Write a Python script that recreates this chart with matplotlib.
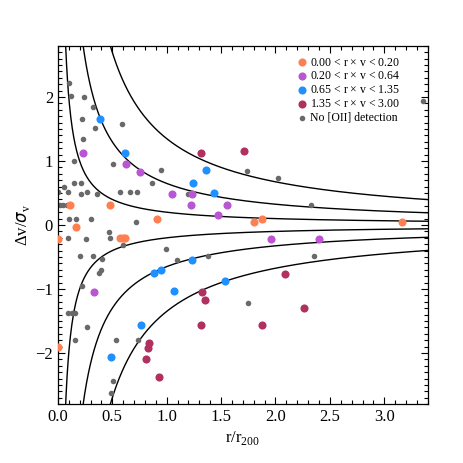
import numpy as np
import matplotlib
matplotlib.use("Agg")
import matplotlib.pyplot as plt
from matplotlib.ticker import MultipleLocator

plt.rcParams['font.family'] = ['Liberation Serif', 'DejaVu Serif']
plt.rcParams['mathtext.fontset'] = 'custom'
plt.rcParams['mathtext.rm'] = 'Liberation Serif'
plt.rcParams['axes.unicode_minus'] = True

# r x v boundaries for the curves
rv_levels = [0.20, 0.65, 1.35]

# galaxies without [OII] detection
gray_r = [0.104, 0.117, 0.24, 0.325, 0.221, 0.341, 0.587, 0.227, 0.15, 0.507,
          0.949, 0.863, 0.058, 0.15, 0.212, 0.0, 0.089, 0.212, 0.27, 0.36,
          0.568, 0.667, 0.728, 1.195, 0.02, 0.05, 0.08, 0.104, 0.169, 0.307,
          0.716, 0.092, 0.261, 0.473, 0.482, 0.599, 0.203, 0.32, 0.41, 0.38,
          0.40, 0.995, 1.094, 1.376, 0.224, 0.095, 0.126, 0.157, 0.264, 0.157,
          0.532, 0.74, 0.51, 0.486, 1.739, 2.025, 2.33, 2.353, 1.748, 3.358]
gray_v = [2.22, 2.02, 2.00, 1.85, 1.66, 1.51, 1.58, 1.34, 1.00, 0.95,
          0.86, 0.66, 0.59, 0.65, 0.65, 0.51, 0.51, 0.49, 0.51, 0.49,
          0.52, 0.52, 0.52, 0.49, 0.32, 0.32, 0.32, 0.09, 0.09, 0.09,
          0.04, -0.21, -0.22, -0.11, -0.20, -0.32, -0.49, -0.49, -0.53, -0.75,
          -0.70, -0.37, -0.54, -0.49, -0.95, -1.38, -1.38, -1.38, -1.59, -1.80,
          -1.80, -1.80, -2.44, -2.63, 0.85, 0.73, 0.31, -0.49, -1.22, 1.94]

# 0.00 < r x v < 0.20
orange_r = [0.113, 0.482, 0.915, 0.166, 0.0, 0.574, 0.599, 0.62, 1.806, 1.874, 3.161, 0.0]
orange_v = [0.32, 0.32, 0.09, -0.03, -0.22, -0.20, -0.20, -0.20, 0.05, 0.10, 0.05, -1.90]

# 0.20 < r x v < 0.64
purple_r = [0.227, 0.63, 0.759, 1.048, 1.235, 1.22, 1.555, 1.475, 1.963, 2.40, 0.329]
purple_v = [1.12, 0.95, 0.83, 0.49, 0.49, 0.31, 0.31, 0.15, -0.22, -0.22, -1.04]

# 0.65 < r x v < 1.35
blue_r = [0.39, 0.615, 1.364, 1.238, 1.431, 1.232, 0.888, 0.952, 1.069, 0.762, 0.486, 1.539]
blue_v = [1.66, 1.12, 0.86, 0.66, 0.50, -0.54, -0.75, -0.70, -1.03, -1.56, -2.07, -0.88]

# 1.35 < r x v < 3.00
maroon_r = [1.315, 1.71, 1.324, 1.355, 1.315, 0.84, 0.83, 0.808, 0.931, 2.092, 2.261, 1.877]
maroon_v = [1.12, 1.16, -1.04, -1.17, -1.56, -1.85, -1.92, -2.10, -2.37, -0.76, -1.29, -1.56]

fig = plt.figure(figsize=(4.63, 4.63), dpi=100)
ax = fig.add_axes([0.125, 0.127, 0.799, 0.774])

r = np.linspace(0.01, 3.5, 800)
for c in rv_levels:
    ax.plot(r, c / r, color='black', lw=1.0, zorder=1)
    ax.plot(r, -c / r, color='black', lw=1.0, zorder=1)

ax.scatter(orange_r, orange_v, s=34, color='#FF7F50', lw=0, zorder=3,
           label=r'0.00 < r $\times$ v < 0.20')
ax.scatter(purple_r, purple_v, s=34, color='#BA55D3', lw=0, zorder=3,
           label=r'0.20 < r $\times$ v < 0.64')
ax.scatter(blue_r, blue_v, s=34, color='#1E90FF', lw=0, zorder=3,
           label=r'0.65 < r $\times$ v < 1.35')
ax.scatter(maroon_r, maroon_v, s=34, color='#B03060', lw=0, zorder=3,
           label=r'1.35 < r $\times$ v < 3.00')
ax.scatter(gray_r, gray_v, s=16, color='#696969', lw=0, zorder=2,
           label='No [OII] detection')

ax.set_xlim(0, 3.4)
ax.set_ylim(-2.8, 2.8)
ax.xaxis.set_major_locator(MultipleLocator(0.5))
ax.xaxis.set_minor_locator(MultipleLocator(0.1))
ax.yaxis.set_major_locator(MultipleLocator(1))
ax.yaxis.set_minor_locator(MultipleLocator(0.1))
ax.xaxis.set_major_formatter(matplotlib.ticker.FormatStrFormatter('%.1f'))
ax.tick_params(which='both', direction='in', top=True, right=True, labelsize=12)
ax.tick_params(which='major', length=5, width=0.8)
ax.tick_params(which='minor', length=2.8, width=0.8)
for s in ax.spines.values():
    s.set_linewidth(0.9)

ax.set_xlabel(r'r/r$_\mathrm{200}$', fontsize=12, labelpad=3)
ax.set_ylabel(r'$\Delta$v/$\sigma_\mathrm{v}$', fontsize=12, labelpad=2)

ax.legend(loc='upper right', bbox_to_anchor=(0.925, 0.97), frameon=False,
          fontsize=8.5, handletextpad=0.05, handlelength=1.2, borderpad=0,
          borderaxespad=0, labelspacing=0.15, scatterpoints=1)

fig.savefig('out.png', dpi=100)
